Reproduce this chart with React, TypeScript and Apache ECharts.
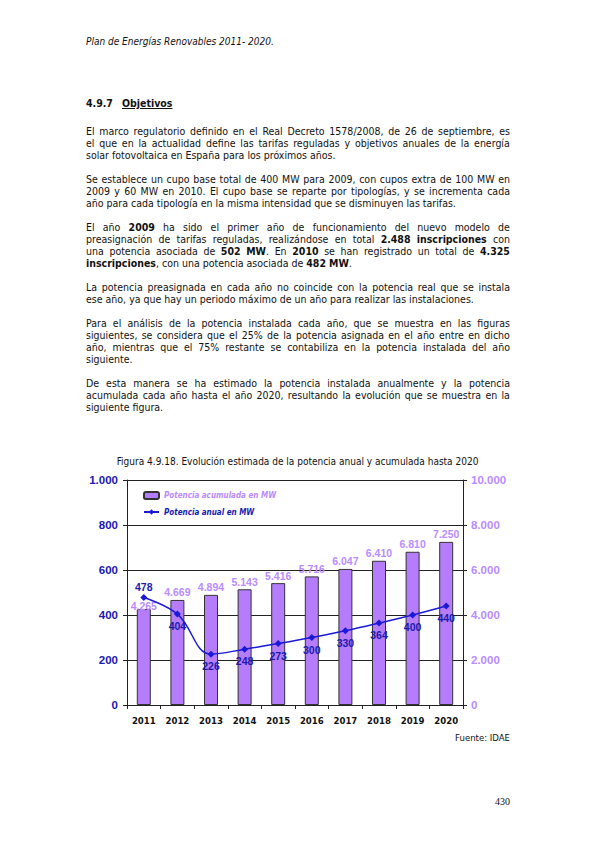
import { useEffect, useRef } from "react";
import * as echarts from "echarts";

// datos de la figura 4.9.18
const years = ["2011", "2012", "2013", "2014", "2015", "2016", "2017", "2018", "2019", "2020"];
const accumulatedMW = [4265, 4669, 4894, 5143, 5416, 5716, 6047, 6410, 6810, 7250];
const annualMW = [478, 404, 226, 248, 273, 300, 330, 364, 400, 440];

const FIG_TITLE = "Figura 4.9.18. Evolución estimada de la potencia anual y acumulada hasta 2020";
const SOURCE = "Fuente: IDAE";

const TEXT_FONT = '"DejaVu Sans Condensed", "Liberation Sans", sans-serif';
const NUM_FONT = '"Liberation Sans", Arial, sans-serif';

// texto de la página, línea a línea (** marca negrita)
const paragraphs: { top: number; lines: string[] }[] = [
  {
    top: 131,
    lines: [
      "El marco regulatorio definido en el Real Decreto 1578/2008, de 26 de septiembre, es",
      "el que en la actualidad define las tarifas reguladas y objetivos anuales de la energía",
      "solar fotovoltaica en España para los próximos años.",
    ],
  },
  {
    top: 179,
    lines: [
      "Se establece un cupo base total de 400 MW para 2009, con cupos extra de 100 MW en",
      "2009 y 60 MW en 2010. El cupo base se reparte por tipologías, y se incrementa cada",
      "año para cada tipología en la misma intensidad que se disminuyen las tarifas.",
    ],
  },
  {
    top: 227,
    lines: [
      "El año **2009** ha sido el primer año de funcionamiento del nuevo modelo de",
      "preasignación de tarifas reguladas, realizándose en total **2.488** **inscripciones** con",
      "una potencia asociada de **502** **MW**. En **2010** se han registrado un total de **4.325**",
      "**inscripciones**, con una potencia asociada de **482** **MW**.",
    ],
  },
  {
    top: 287,
    lines: [
      "La potencia preasignada en cada año no coincide con la potencia real que se instala",
      "ese año, ya que hay un periodo máximo de un año para realizar las instalaciones.",
    ],
  },
  {
    top: 323,
    lines: [
      "Para el análisis de la potencia instalada cada año, que se muestra en las figuras",
      "siguientes, se considera que el 25% de la potencia asignada en el año entre en dicho",
      "año, mientras que el 75% restante se contabiliza en la potencia instalada del año",
      "siguiente.",
    ],
  },
  {
    top: 383,
    lines: [
      "De esta manera se ha estimado la potencia instalada anualmente y la potencia",
      "acumulada cada año hasta el año 2020, resultando la evolución que se muestra en la",
      "siguiente figura.",
    ],
  },
];

const fmt = (v: number) => String(v).replace(/\B(?=(\d{3})+(?!\d))/g, ".");

function Word({ token }: { token: string }) {
  const parts = token.split("**");
  return (
    <span>
      {parts.map((p, i) => (i % 2 === 1 ? <b key={i}>{p}</b> : <span key={i}>{p}</span>))}
    </span>
  );
}

function Line({ text, y, justify }: { text: string; y: number; justify: boolean }) {
  const words = text.split(" ");
  return (
    <div
      style={{
        position: "absolute",
        left: 86,
        top: y - 6,
        width: 424,
        height: 12,
        lineHeight: "12px",
        whiteSpace: "nowrap",
        display: justify ? "flex" : "block",
        justifyContent: "space-between",
      }}
    >
      {justify
        ? words.map((w, i) => <Word key={i} token={w} />)
        : words.map((w, i) => (
            <span key={i}>
              <Word token={w} />
              {i < words.length - 1 ? " " : ""}
            </span>
          ))}
    </div>
  );
}

function Chart() {
  const chartRef = useRef<HTMLDivElement>(null);

  useEffect(() => {
    if (!chartRef.current) return;
    const chart = echarts.init(chartRef.current, null, { renderer: "svg" });

    const option: echarts.EChartsOption = {
      animation: false,
      title: {
        text: FIG_TITLE,
        left: "center",
        top: 11,
        textStyle: { fontFamily: TEXT_FONT, fontSize: 10, fontWeight: "normal", color: "#111" },
      },
      legend: {
        orient: "vertical",
        left: 138,
        top: 46,
        itemWidth: 15,
        itemHeight: 7,
        itemGap: 8,
        textStyle: { fontFamily: TEXT_FONT, fontSize: 8, fontStyle: "italic", fontWeight: "bold" },
        data: [
          { name: "Potencia acumulada en MW", textStyle: { color: "#b98cff" } },
          { name: "Potencia anual en MW", textStyle: { color: "#1a1ab0" } },
        ],
      },
      grid: { left: 127, right: 132, top: 40, height: 225 },
      xAxis: {
        type: "category",
        data: years,
        axisLine: { lineStyle: { color: "#222", width: 1 } },
        axisTick: { show: true, length: 4, lineStyle: { color: "#222" } },
        axisLabel: { margin: 10, fontFamily: TEXT_FONT, fontWeight: "bold", fontSize: 9.5, color: "#111" },
      },
      yAxis: [
        {
          type: "value",
          position: "left",
          min: 0,
          max: 1000,
          interval: 200,
          axisLine: { show: true, lineStyle: { color: "#222", width: 1 } },
          axisTick: { show: true, length: 4, lineStyle: { color: "#222" } },
          axisLabel: {
            formatter: (v: number) => fmt(v),
            color: "#1a1ab0",
            fontWeight: "bold",
            fontFamily: NUM_FONT,
            fontSize: 11.5,
            margin: 9,
          },
          splitLine: { show: true, lineStyle: { color: "#222", width: 1 } },
        },
        {
          type: "value",
          position: "right",
          min: 0,
          max: 10000,
          interval: 2000,
          axisLine: { show: true, lineStyle: { color: "#222", width: 1 } },
          axisTick: { show: true, length: 4, lineStyle: { color: "#222" } },
          axisLabel: {
            formatter: (v: number) => fmt(v),
            color: "#b98cff",
            fontWeight: "bold",
            fontFamily: NUM_FONT,
            fontSize: 11.5,
            margin: 8,
          },
          splitLine: { show: false },
        },
      ],
      series: [
        {
          name: "Potencia acumulada en MW",
          type: "bar",
          yAxisIndex: 1,
          barWidth: 14,
          data: accumulatedMW.map((v, i) =>
            i === 0 ? { value: v, label: { distance: -2 } } : { value: v }
          ),
          itemStyle: { color: "#b57dfc", borderColor: "#333", borderWidth: 1 },
          label: {
            show: true,
            position: "top",
            distance: 2,
            formatter: (p: any) => fmt(p.value),
            color: "#b98cff",
            fontWeight: "bold",
            fontFamily: NUM_FONT,
            fontSize: 10.5,
          },
        },
        {
          name: "Potencia anual en MW",
          type: "line",
          yAxisIndex: 0,
          smooth: 0.4,
          symbol: "diamond",
          symbolSize: 7,
          z: 3,
          data: annualMW.map((v, i) =>
            i === 0 ? { value: v, label: { position: "top", distance: 1 } } : { value: v }
          ),
          itemStyle: { color: "#1a1ad6" },
          lineStyle: { color: "#1a1ad6", width: 1.5 },
          label: {
            show: true,
            position: "bottom",
            distance: 3,
            color: "#1a1ab0",
            fontWeight: "bold",
            fontFamily: NUM_FONT,
            fontSize: 10.5,
          },
        },
      ],
      graphic: [
        {
          type: "text",
          right: 85,
          top: 292,
          style: { text: SOURCE, fontFamily: TEXT_FONT, fontSize: 9.5, fill: "#111" },
        },
      ],
    };

    chart.setOption(option);
    return () => {
      chart.dispose();
    };
  }, []);

  return (
    <div
      ref={chartRef}
      style={{ position: "absolute", left: 0, top: 440, width: 595, height: 310 }}
    />
  );
}

export default function App() {
  return (
    <div
      style={{
        position: "absolute",
        left: 0,
        top: 0,
        width: 595,
        height: 842,
        background: "#fff",
        color: "#111",
        fontFamily: TEXT_FONT,
        fontSize: 10.5,
        overflow: "hidden",
      }}
    >
      <div style={{ position: "absolute", left: 86, top: 36, fontStyle: "italic", lineHeight: "12px", fontSize: 10 }}>
        Plan de Energías Renovables 2011- 2020.
      </div>
      <div style={{ position: "absolute", left: 86, top: 97, fontWeight: "bold", lineHeight: "12px" }}>
        4.9.7
      </div>
      <div
        style={{
          position: "absolute",
          left: 122,
          top: 97,
          fontWeight: "bold",
          lineHeight: "12px",
          textDecoration: "underline",
        }}
      >
        Objetivos
      </div>
      {paragraphs.map((p, pi) =>
        p.lines.map((l, li) => (
          <Line key={`${pi}-${li}`} text={l} y={p.top + li * 12} justify={li < p.lines.length - 1} />
        ))
      )}
      <Chart />
      <div
        style={{
          position: "absolute",
          right: 85,
          top: 796,
          fontFamily: '"Liberation Serif", serif',
          fontSize: 10,
          lineHeight: "12px",
        }}
      >
        430
      </div>
    </div>
  );
}
